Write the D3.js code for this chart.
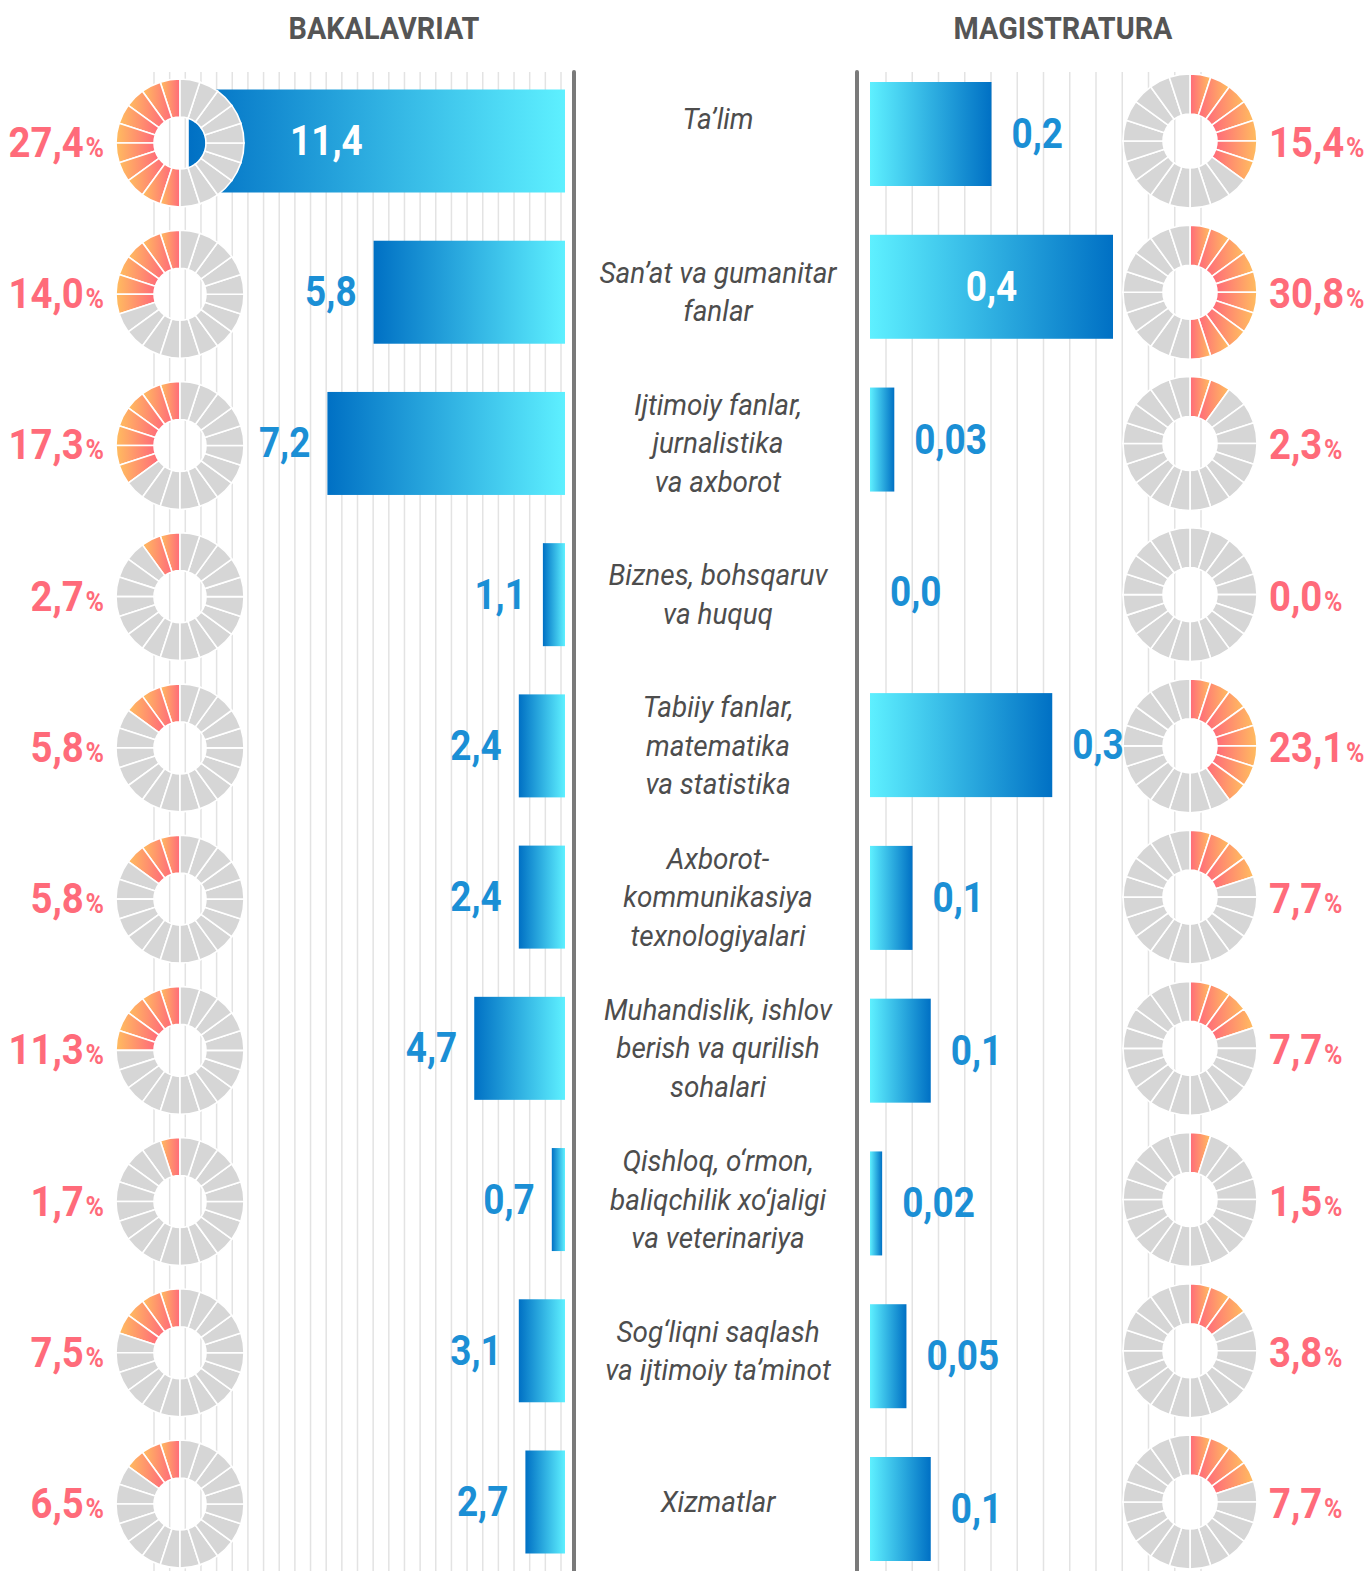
<!DOCTYPE html>
<html>
<head>
<meta charset="utf-8">
<script src="https://cdn.jsdelivr.net/npm/d3@7"></script>
<style>
  body { margin: 0; background: #fff; }
  svg { display: block; }
</style>
</head>
<body>
<div id="chart"></div>
<script>
// categories (lines of the middle label)
var categories = [
    ["Ta’lim"],
    ["San’at va gumanitar", "fanlar"],
    ["Ijtimoiy fanlar,", "jurnalistika", "va axborot"],
    ["Biznes, bohsqaruv", "va huquq"],
    ["Tabiiy fanlar,", "matematika", "va statistika"],
    ["Axborot-", "kommunikasiya", "texnologiyalari"],
    ["Muhandislik, ishlov", "berish va qurilish", "sohalari"],
    ["Qishloq, o‘rmon,", "baliqchilik xo‘jaligi", "va veterinariya"],
    ["Sog‘liqni saqlash", "va ijtimoiy ta’minot"],
    ["Xizmatlar"]
];

// BAKALAVRIAT
var bakLabel = ["11,4", "5,8", "7,2", "1,1", "2,4", "2,4", "4,7", "0,7", "3,1", "2,7"];
// bar lengths as drawn (the artwork is not to scale below 5)
var bakBar = [11.4, 5.8, 7.2, 0.67, 1.4, 1.4, 2.75, 0.4, 1.4, 1.2];
var bakPct = ["27,4", "14,0", "17,3", "2,7", "5,8", "5,8", "11,3", "1,7", "7,5", "6,5"];
var bakRing = [10, 6, 7, 2, 3, 3, 5, 1, 4, 3];   // filled segments of 20

// MAGISTRATURA
var magLabel = ["0,2", "0,4", "0,03", "0,0", "0,3", "0,1", "0,1", "0,02", "0,05", "0,1"];
var magBar = [0.2, 0.4, 0.04, 0, 0.3, 0.07, 0.1, 0.02, 0.06, 0.1];
var magPct = ["15,4", "30,8", "2,3", "0,0", "23,1", "7,7", "7,7", "1,5", "3,8", "7,7"];
var magRing = [7, 10, 2, 0, 8, 4, 4, 1, 3, 4];

var w = 1370, h = 1571;
var idx = d3.range(categories.length);
var SEG = 20;

var svg = d3.select("#chart").append("svg")
    .attr("width", w)
    .attr("height", h);

var defs = svg.append("defs");

function grad(id, stops) {
    var g = defs.append("linearGradient").attr("id", id)
        .attr("x1", 0).attr("x2", 1).attr("y1", 0).attr("y2", 0);
    stops.forEach(function (s) {
        g.append("stop").attr("offset", s[0]).attr("stop-color", s[1]);
    });
}
grad("barL", [[0, "#0070c4"], [1, "#5ef0ff"]]);
grad("barR", [[0, "#5ef0ff"], [1, "#0070c4"]]);
grad("segL", [[0, "#ffbd5f"], [1, "#ff6a7a"]]);
grad("segR", [[0, "#ff6a7a"], [1, "#ffbd5f"]]);

//Scales
var yL = d3.scalePoint().domain(idx).range([141, 1502]);
var yR = d3.scalePoint().domain(idx).range([134, 1509]);
var xL = d3.scaleLinear().domain([0, 12]).range([565, 565 - 12 * 33]);
var xR = d3.scaleLinear().domain([0, 0.4]).range([870, 1113]);
var barH = 103;

// condensed text helper (no condensed face installed, so squeeze it)
function ctext(sel, x, y, sx) {
    return sel.attr("transform", "translate(" + x + "," + y + ") scale(" + sx + ",1)");
}

//Grid lines
var gridL = d3.scaleLinear().domain([0, 26]).range([154, 561]);
var gridR = d3.scaleLinear().domain([0, 12]).range([886, 1201]);
svg.append("g").selectAll("line")
    .data(d3.range(27).map(gridL).concat(d3.range(13).map(gridR)))
    .enter().append("line")
    .attr("x1", function (d) { return d; })
    .attr("x2", function (d) { return d; })
    .attr("y1", 72).attr("y2", h)
    .style("stroke", "#e3e3e3")
    .style("stroke-width", 1.5);

// separators
svg.append("g").selectAll("line")
    .data([574, 857])
    .enter().append("line")
    .attr("x1", function (d) { return d; })
    .attr("x2", function (d) { return d; })
    .attr("y1", 72).attr("y2", h + 5)
    .style("stroke", "#7a7a7a")
    .style("stroke-width", 4)
    .style("stroke-linecap", "round");

//Bars
svg.append("g").selectAll("rect")
    .data(idx)
    .enter().append("rect")
    .attr("x", function (i) { return xL(bakBar[i]); })
    .attr("width", function (i) { return xL(0) - xL(bakBar[i]); })
    .attr("y", function (i) { return yL(i) - barH / 2; })
    .attr("height", barH)
    .style("fill", "url(#barL)");

svg.append("g").selectAll("rect")
    .data(idx.filter(function (i) { return magBar[i] > 0; }))
    .enter().append("rect")
    .attr("x", xR(0))
    .attr("width", function (i) { return xR(magBar[i]) - xR(0); })
    .attr("y", function (i) { return yR(i) - barH / 2 - 0.5; })
    .attr("height", barH + 1)
    .style("fill", "url(#barR)");

//Rings
function ring(cx, cy, rIn, rOut, filled, side) {
    var arc = d3.arc().innerRadius(rIn).outerRadius(rOut);
    var step = 2 * Math.PI / SEG;
    var g = svg.append("g").attr("transform", "translate(" + cx + "," + cy + ")");
    g.selectAll("path")
        .data(d3.range(SEG))
        .enter().append("path")
        .attr("d", function (k) {
            var a0 = side * k * step, a1 = side * (k + 1) * step;
            return arc({ startAngle: Math.min(a0, a1), endAngle: Math.max(a0, a1) });
        })
        .style("fill", function (k) {
            return k < filled ? (side < 0 ? "url(#segL)" : "url(#segR)") : "#d6d6d6";
        })
        .style("stroke", "#fff")
        .style("stroke-width", 1.6);
}
idx.forEach(function (i) {
    ring(180, yL(i) + 2, 26, 64, bakRing[i], -1);
    ring(1190, yL(i), 27, 67, magRing[i], 1);
});

//Headers
ctext(svg.append("text"), 384, 39, 0.9)
    .attr("text-anchor", "middle")
    .style("font", "bold 32px Roboto")
    .style("fill", "#555")
    .text("BAKALAVRIAT");
ctext(svg.append("text"), 1063, 39, 0.9)
    .attr("text-anchor", "middle")
    .style("font", "bold 32px Roboto")
    .style("fill", "#555")
    .text("MAGISTRATURA");

//Category labels
var lineH = 38.5;
idx.forEach(function (i) {
    var lines = categories[i];
    var cy = i === 0 ? yL(i) - 22 : yL(i);
    lines.forEach(function (s, j) {
        var y = cy + (j - (lines.length - 1) / 2) * lineH + 10;
        ctext(svg.append("text"), 718, y, 0.93)
            .attr("text-anchor", "middle")
            .style("font", "italic 400 30px Roboto")
            .style("fill", "#4d4d4d")
            .text(s);
    });
});

//Value labels
var bigMax = d3.maxIndex(bakBar);
idx.forEach(function (i) {
    var inside = i === bigMax;
    ctext(svg.append("text"),
            inside ? 180 + 64 + 46 : xL(bakBar[i]) - 17, yL(i) + 14, 0.88)
        .attr("text-anchor", inside ? "start" : "end")
        .style("font", "bold 42px Roboto")
        .style("fill", inside ? "#fff" : "#1b8fd5")
        .text(bakLabel[i]);
});
var magMax = d3.maxIndex(magBar);
idx.forEach(function (i) {
    var inside = i === magMax;
    ctext(svg.append("text"),
            inside ? (xR(0) + xR(magBar[i])) / 2 : xR(magBar[i]) + 20, yR(i) + 14, 0.88)
        .attr("text-anchor", inside ? "middle" : "start")
        .style("font", "bold 42px Roboto")
        .style("fill", inside ? "#fff" : "#1b8fd5")
        .text(magLabel[i]);
});

//Percent labels
function pct(x, y, anchor, s) {
    var t = ctext(svg.append("text"), x, y, 0.89)
        .attr("text-anchor", anchor)
        .style("font", "bold 43px Roboto")
        .style("fill", "#ff6b7a");
    t.append("tspan").text(s);
    t.append("tspan").style("font-size", "28px").attr("dx", 2).text("%");
}
idx.forEach(function (i) {
    pct(104, yL(i) + 16, "end", bakPct[i]);
    pct(1269, yL(i) + 16, "start", magPct[i]);
});
</script>
</body>
</html>
